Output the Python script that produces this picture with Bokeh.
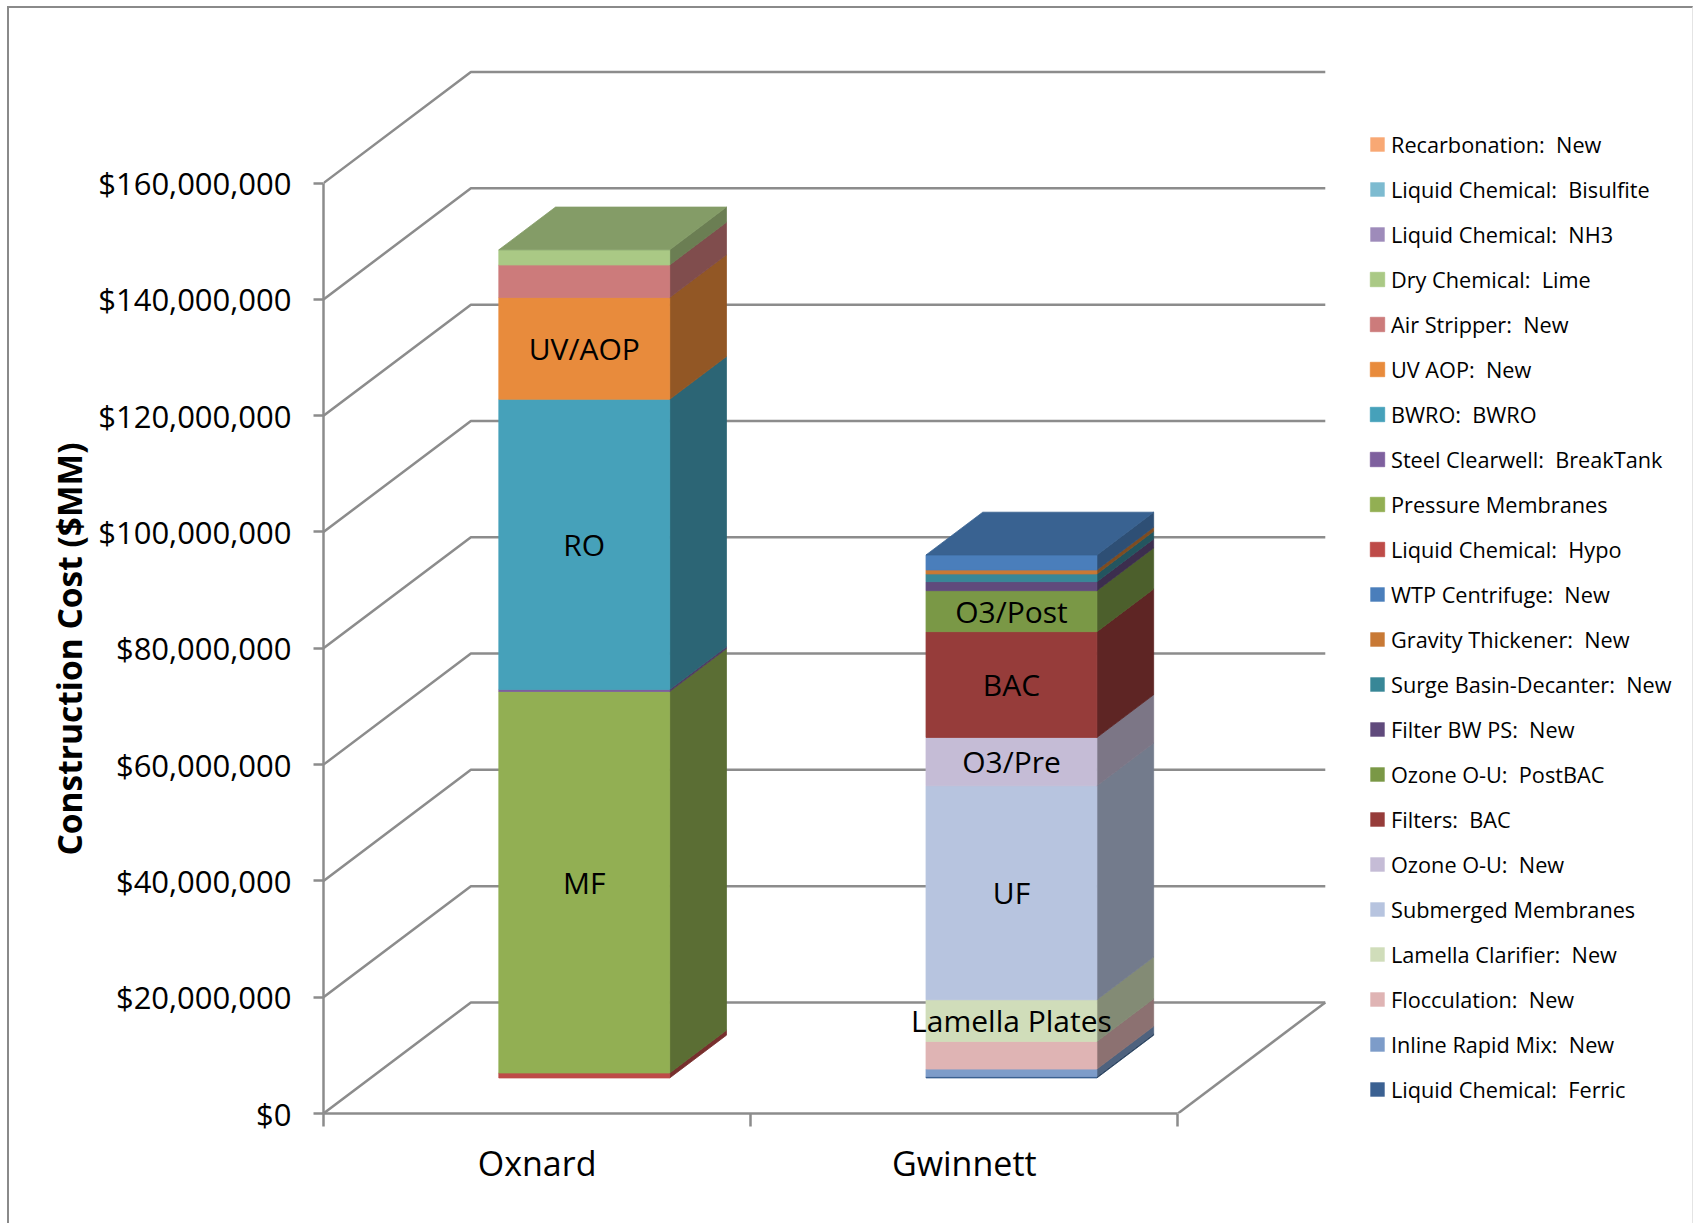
import numpy as np
from bokeh.plotting import figure
from bokeh.models import (Range1d, FixedTicker, NumeralTickFormatter, Legend,
                          LegendItem, ColumnDataSource, Title, InlineStyleSheet)
from bokeh.core.properties import value
from bokeh.embed import file_html
from bokeh.resources import INLINE

# ---------------------------------------------------------------- data
sites = ["Oxnard", "Gwinnett"]

# treatment components, listed from the bottom of each stack upward
components = [
    "Liquid Chemical:  Ferric",
    "Inline Rapid Mix:  New",
    "Flocculation:  New",
    "Lamella Clarifier:  New",
    "Submerged Membranes",
    "Ozone O-U:  New",
    "Filters:  BAC",
    "Ozone O-U:  PostBAC",
    "Filter BW PS:  New",
    "Surge Basin-Decanter:  New",
    "Gravity Thickener:  New",
    "WTP Centrifuge:  New",
    "Liquid Chemical:  Hypo",
    "Pressure Membranes",
    "Steel Clearwell:  BreakTank",
    "BWRO:  BWRO",
    "UV AOP:  New",
    "Air Stripper:  New",
    "Dry Chemical:  Lime",
    "Liquid Chemical:  NH3",
    "Liquid Chemical:  Bisulfite",
    "Recarbonation:  New",
]

# construction cost per component, $ millions
oxnard_cost_mm = [0, 0, 0, 0, 0, 0, 0, 0, 0, 0, 0, 0,
                  0.86, 65.6, 0.35, 49.9, 17.5, 5.6, 2.6, 0, 0, 0]
gwinnett_cost_mm = [0.26, 1.27, 4.75, 7.17, 36.8, 8.3, 18.2, 7.05, 1.55, 1.32, 0.69, 2.58,
                    0, 0, 0, 0, 0, 0, 0, 0, 0, 0]

component_colors = [
    "#3B6192", "#7D9CC9", "#DFB4B4", "#D0DDBA", "#B7C4DF", "#C5BCD6",
    "#963C3A", "#7A9846", "#604A7C", "#388797", "#C87935", "#4A7EBB",
    "#BE4B48", "#92AF53", "#7E609E", "#46A1BA", "#E88B3C", "#CC7B7B",
    "#AAC985", "#9E8BBA", "#7DBBD0", "#F8A874",
]

# process names written on the bar segments
oxnard_tags = {"Pressure Membranes": "MF", "BWRO:  BWRO": "RO", "UV AOP:  New": "UV/AOP"}
gwinnett_tags = {"Lamella Clarifier:  New": "Lamella Plates", "Submerged Membranes": "UF",
                 "Ozone O-U:  New": "O3/Pre", "Filters:  BAC": "BAC",
                 "Ozone O-U:  PostBAC": "O3/Post"}

y_ticks = [0, 20e6, 40e6, 60e6, 80e6, 100e6, 120e6, 140e6, 160e6]

# ---------------------------------------------------------------- geometry
costs = np.array([oxnard_cost_mm, gwinnett_cost_mm]) * 1e6      # (site, component)
tags = [oxnard_tags, gwinnett_tags]
n_sites = len(sites)
centers = np.arange(n_sites) + 0.5

HALF_W = 0.2                    # half bar width, category units
D_FRONT, D_BACK = 0.32, 0.705   # bar front / back as fraction of the floor depth
DEPTH_X = 0.345                 # receding offset of the full depth, category units
DEPTH_Y = 19.1e6                # receding offset of the full depth, dollars


def proj(x, y, d):
    """oblique projection of a point at depth fraction d"""
    return x + d * DEPTH_X, y + d * DEPTH_Y


def shade(hex_color, f):
    r, g, b = (int(hex_color[i:i + 2], 16) for i in (1, 3, 5))
    return "#%02x%02x%02x" % (int(r * f), int(g * f), int(b * f))


GRID = "#8C8C8C"
FONT = "Open Sans"

p = figure(frame_width=1370, frame_height=1113,
           x_range=Range1d(0, 1370 / 427.2), y_range=Range1d(0, 191.4e6),
           min_border_left=323, min_border_right=0, min_border_top=0, min_border_bottom=110,
           output_backend="svg", toolbar_location=None,
           background_fill_color="white", border_fill_color="white")
p.outline_line_color = None
p.xgrid.visible = False
p.ygrid.visible = False

# chart-area frame line
p.stylesheets = [InlineStyleSheet(css="""
:host { position: relative; }
:host::after {
  content: ""; position: absolute; left: 7px; top: 6px; right: 0px; bottom: -4px;
  border-left: 2px solid #8A8A8A; border-top: 2px solid #8A8A8A;
  border-right: 1px solid #E4E4E4; pointer-events: none;
}
""")]

# walls: each gridline runs up the left wall and across the back wall
wall_xs, wall_ys = [], []
for v in y_ticks:
    x0, y0 = proj(0, v, 0)
    x1, y1 = proj(0, v, 1)
    x2, y2 = proj(n_sites, v, 1)
    wall_xs.append([x0, x1, x2])
    wall_ys.append([y0, y1, y2])
# right edge of the floor
fx0, fy0 = proj(n_sites, 0, 0)
fx1, fy1 = proj(n_sites, 0, 1)
wall_xs.append([fx0, fx1])
wall_ys.append([fy0, fy1])
p.multi_line(wall_xs, wall_ys, line_color=GRID, line_width=2.5)

# stacked 3-D bars
bottoms = np.vstack([np.zeros(n_sites), np.cumsum(costs, axis=1)[:, :-1].T]).T
tops = bottoms + costs
top_idx = [max(k for k in range(len(components)) if costs[s, k] > 0) for s in range(n_sites)]

front_renderers = []
label_x, label_y, label_text = [], [], []
for k, comp in enumerate(components):
    col = component_colors[k]
    fx, fy, fa, sx, sy, tx, ty = [], [], [], [], [], [], []
    for s in range(n_sites):
        c = centers[s]
        y0, y1 = bottoms[s, k], tops[s, k]
        a = proj(c - HALF_W, y0, D_FRONT)
        b = proj(c + HALF_W, y0, D_FRONT)
        cc = proj(c + HALF_W, y1, D_FRONT)
        d = proj(c - HALF_W, y1, D_FRONT)
        # front face (a zero cost gives a flat, outline-free face)
        fx.append([a[0], b[0], cc[0], d[0]])
        fy.append([a[1], b[1], cc[1], d[1]])
        fa.append(1.0 if costs[s, k] > 0 else 0.0)
        if costs[s, k] <= 0:
            continue
        e = proj(c + HALF_W, y0, D_BACK)
        f = proj(c + HALF_W, y1, D_BACK)
        sx.append([b[0], e[0], f[0], cc[0]])
        sy.append([b[1], e[1], f[1], cc[1]])
        if k == top_idx[s]:
            g = proj(c - HALF_W, y1, D_BACK)
            tx.append([d[0], cc[0], f[0], g[0]])
            ty.append([d[1], cc[1], f[1], g[1]])
        if comp in tags[s]:
            mx, my = proj(c, (y0 + y1) / 2, D_FRONT)
            label_x.append(mx)
            label_y.append(my)
            label_text.append(tags[s][comp])
    side_col = shade(col, 0.63)
    if sx:
        p.patches(sx, sy, fill_color=side_col, line_color=side_col, line_width=0.8)
    r = p.patches(xs="xs", ys="ys", source=ColumnDataSource(dict(xs=fx, ys=fy, la=fa)),
                  fill_color=col, line_color=col, line_alpha="la", line_width=0.8)
    front_renderers.append(r)
    if tx:
        top_col = shade(col, 0.78)
        p.patches(tx, ty, fill_color=top_col, line_color=top_col, line_width=0.8)

p.text(x=label_x, y=label_y, text=label_text, text_font=value(FONT), text_font_size="30px",
       text_align="center", text_baseline="middle", text_color="black")

# value axis
yax = p.yaxis[0]
yax.ticker = FixedTicker(ticks=y_ticks)
yax.formatter = NumeralTickFormatter(format="$0,0")
yax.bounds = (0, 160e6)
yax.axis_line_color = GRID
yax.axis_line_width = 2.5
yax.major_tick_line_color = GRID
yax.major_tick_line_width = 2.5
yax.major_tick_out = 10
yax.major_tick_in = 0
yax.minor_tick_line_color = None
yax.major_label_standoff = 22
yax.major_label_text_font = FONT
yax.major_label_text_font_size = "31px"
yax.major_label_text_color = "black"

# value-axis title, centred on the $0 - $160M span
p.add_layout(Title(text="Construction Cost ($MM)", align="left", offset=258,
                   text_font=FONT, text_font_size="33.5px", text_font_style="bold",
                   text_color="black", standoff=8), "left")

# category axis: tick marks between sites, names centred under each bar
xax = p.xaxis[0]
xax.ticker = FixedTicker(ticks=list(centers), minor_ticks=list(range(n_sites + 1)))
xax.major_label_overrides = {float(c): name for c, name in zip(centers, sites)}
xax.bounds = (0, n_sites)
xax.axis_line_color = GRID
xax.axis_line_width = 2.5
xax.major_tick_line_color = None
xax.major_tick_out = 0
xax.minor_tick_line_color = GRID
xax.minor_tick_line_width = 2.5
xax.minor_tick_out = 13
xax.minor_tick_in = 0
xax.major_label_standoff = 13
xax.major_label_text_font = FONT
xax.major_label_text_font_size = "34px"
xax.major_label_text_color = "black"

# legend, top entry = last stacked component
items = [LegendItem(label=components[k], renderers=[front_renderers[k]])
         for k in reversed(range(len(components)))]
legend = Legend(items=items, location=(1045, 9), glyph_width=18, glyph_height=18,
                label_standoff=5, spacing=15, label_height=30,
                label_text_font=FONT, label_text_font_size="21.7px", label_text_color="black",
                padding=0, margin=0, border_line_alpha=0, background_fill_alpha=0)
p.add_layout(legend)

open("out.html", "w").write(file_html(p, INLINE))
